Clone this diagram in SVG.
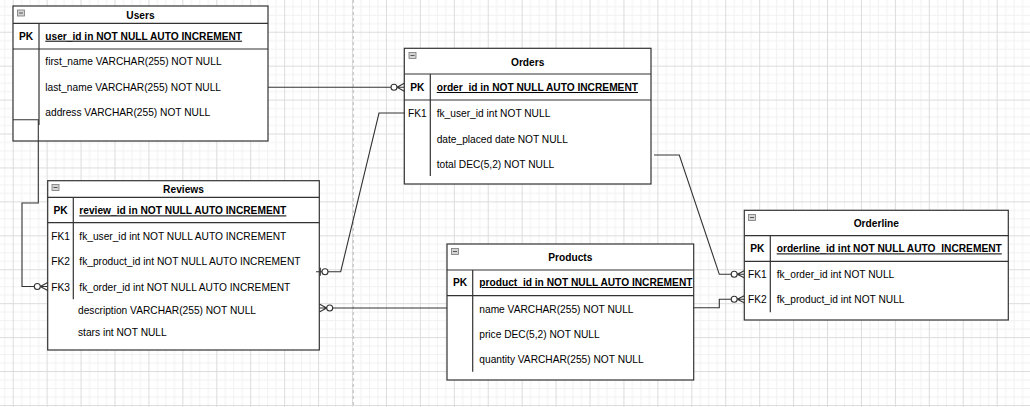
<svg xmlns="http://www.w3.org/2000/svg" width="1030" height="407" viewBox="0 0 1030 407">
<style>
.tb{fill:#fff;stroke:#333;stroke-width:1.2}
.ln{stroke:#333;stroke-width:1.2;fill:none}
.t{font-family:"Liberation Sans",Arial,sans-serif;font-size:10.2px;fill:#000}
.b{font-weight:bold}
.u{text-decoration:underline}
.m{text-anchor:middle}
.cn{stroke:#333;stroke-width:1.1;fill:none}
.ci{stroke:#333;stroke-width:1.1;fill:#fff}
.ic{fill:#d4d4d4;stroke:#777;stroke-width:0.8}
.icl{stroke:#555;stroke-width:1}
</style>
<defs>
<pattern id="grid" patternUnits="userSpaceOnUse" x="12.7" y="-2.2" width="33.93" height="33.93">
<rect x="8.48" y="0" width="1" height="33.93" fill="#f1f1f1"/>
<rect x="16.97" y="0" width="1" height="33.93" fill="#f1f1f1"/>
<rect x="25.45" y="0" width="1" height="33.93" fill="#f1f1f1"/>
<rect x="0" y="8.48" width="33.93" height="1" fill="#f1f1f1"/>
<rect x="0" y="16.97" width="33.93" height="1" fill="#f1f1f1"/>
<rect x="0" y="25.45" width="33.93" height="1" fill="#f1f1f1"/>
<rect x="0" y="0" width="1" height="33.93" fill="#dcdcdc"/>
<rect x="0" y="0" width="33.93" height="1" fill="#dcdcdc"/>
</pattern>
<g id="minus">
<rect class="ic" x="0" y="0" width="7" height="6"/>
<line class="icl" x1="1.5" y1="3" x2="5.5" y2="3"/>
</g>
</defs>
<rect width="1030" height="407" fill="#fff"/>
<rect width="1030" height="407" fill="url(#grid)"/>
<line x1="353.3" y1="0" x2="353.3" y2="407" stroke="#bdbdbd" stroke-width="1" stroke-dasharray="3 3"/>

<g id="users">
<rect class="tb" x="13" y="6" width="255" height="135"/>
<path class="ln" d="M13,23.3 H268 M13,49 H268 M39,23.3 V125"/>
<use href="#minus" x="17.5" y="10"/>
<text class="t b m" x="140.5" y="19.4">Users</text>
<text class="t b m" x="26" y="39.7">PK</text>
<text class="t b u" x="45.3" y="39.7">user_id in NOT NULL AUTO INCREMENT</text>
<text class="t" x="45.3" y="65.4">first_name VARCHAR(255) NOT NULL</text>
<text class="t" x="45.3" y="91.4">last_name VARCHAR(255) NOT NULL</text>
<text class="t" x="45.3" y="116.2">address VARCHAR(255) NOT NULL</text>
</g>

<g id="orders">
<rect class="tb" x="404.3" y="48.3" width="246.7" height="135.7"/>
<path class="ln" d="M404.3,74 H651 M404.3,100 H651 M430.3,74 V176"/>
<use href="#minus" x="409" y="52.5"/>
<text class="t b m" x="527.7" y="65.7">Orders</text>
<text class="t b m" x="417.3" y="91">PK</text>
<text class="t b u" x="436.7" y="91">order_id in NOT NULL AUTO INCREMENT</text>
<text class="t m" x="417.3" y="116.7">FK1</text>
<text class="t" x="436.7" y="116.7">fk_user_id int NOT NULL</text>
<text class="t" x="436.7" y="142.7">date_placed date NOT NULL</text>
<text class="t" x="436.7" y="167.7">total DEC(5,2) NOT NULL</text>
</g>

<g id="reviews">
<rect class="tb" x="47.7" y="180.7" width="271.6" height="169.3"/>
<path class="ln" d="M47.7,197.3 H319.3 M47.7,222.7 H319.3 M73.3,197.3 V299.3"/>
<use href="#minus" x="52" y="184.5"/>
<text class="t b m" x="183.5" y="193.4">Reviews</text>
<text class="t b m" x="60.5" y="214.4">PK</text>
<text class="t b u" x="79.3" y="214.4">review_id in NOT NULL AUTO INCREMENT</text>
<text class="t m" x="60.5" y="240.4">FK1</text>
<text class="t" x="79.3" y="240.4">fk_user_id int NOT NULL AUTO INCREMENT</text>
<text class="t m" x="60.5" y="265.4">FK2</text>
<text class="t" x="79.3" y="265.4">fk_product_id int NOT NULL AUTO INCREMENT</text>
<text class="t m" x="60.5" y="291">FK3</text>
<text class="t" x="79.3" y="291">fk_order_id int NOT NULL AUTO INCREMENT</text>
<text class="t" x="78" y="314.4">description VARCHAR(255) NOT NULL</text>
<text class="t" x="78" y="336.4">stars int NOT NULL</text>
</g>

<g id="products">
<rect class="tb" x="447" y="244" width="246.7" height="136"/>
<path class="ln" d="M447,270 H693.7 M447,295.7 H693.7 M472.7,270 V371.7"/>
<use href="#minus" x="451.5" y="248.5"/>
<text class="t b m" x="570.3" y="261">Products</text>
<text class="t b m" x="460" y="286">PK</text>
<text class="t b u" x="479.3" y="286">product_id in NOT NULL AUTO INCREMENT</text>
<text class="t" x="479.3" y="312.7">name VARCHAR(255) NOT NULL</text>
<text class="t" x="479.3" y="337.7">price DEC(5,2) NOT NULL</text>
<text class="t" x="479.3" y="363.4">quantity VARCHAR(255) NOT NULL</text>
</g>

<g id="orderline">
<rect class="tb" x="744.3" y="210.3" width="264" height="109.7"/>
<path class="ln" d="M744.3,235.7 H1008.3 M744.3,261.3 H1008.3 M770.3,235.7 V312.3"/>
<use href="#minus" x="748.5" y="214.5"/>
<text class="t b m" x="876.3" y="227">Orderline</text>
<text class="t b m" x="757.3" y="252.4">PK</text>
<text class="t b u" x="776.7" y="252.4" style="white-space:pre">orderline_id int NOT NULL AUTO  INCREMENT</text>
<text class="t m" x="757.3" y="278">FK1</text>
<text class="t" x="776.7" y="278">fk_order_id int NOT NULL</text>
<text class="t m" x="757.3" y="302.7">FK2</text>
<text class="t" x="776.7" y="302.7">fk_product_id int NOT NULL</text>
</g>

<g id="connectors">
<path class="cn" d="M268,87.3 H391"/>
<circle class="ci" cx="394" cy="87.3" r="3"/>
<path class="cn" d="M397,87.3 L404.3,83.3 M397,87.3 H404.3 M397,87.3 L404.3,91.3"/>

<path class="cn" d="M404.3,113 H379 L340.7,271.7 H328"/>
<circle class="ci" cx="325" cy="271.7" r="3"/>
<path class="cn" d="M322,271.7 H316 M320.3,267.7 V275.7"/>

<path class="cn" d="M332.7,308 H447"/>
<circle class="ci" cx="329.7" cy="308" r="3"/>
<path class="cn" d="M326.7,308 L319.3,304 M326.7,308 H319.3 M326.7,308 L319.3,312"/>

<path class="cn" d="M13,119.7 H38.3 V203 H22 V286.5 H34.3"/>
<circle class="ci" cx="37.3" cy="286.5" r="3"/>
<path class="cn" d="M40.3,286.5 L47.7,282.5 M40.3,286.5 H47.7 M40.3,286.5 L47.7,290.5"/>

<path class="cn" d="M654,155 H679.3 L719.3,274.3 H731.2"/>
<circle class="ci" cx="734.2" cy="274.3" r="3"/>
<path class="cn" d="M737.2,274.3 L744.3,270.8 M737.2,274.3 H744.3 M737.2,274.3 L744.3,277.8"/>

<path class="cn" d="M693.7,307.7 H719.3 V299.3 H731.2"/>
<circle class="ci" cx="734.2" cy="299.3" r="3"/>
<path class="cn" d="M737.2,299.3 L744.3,295.8 M737.2,299.3 H744.3 M737.2,299.3 L744.3,302.8"/>
</g>
</svg>
